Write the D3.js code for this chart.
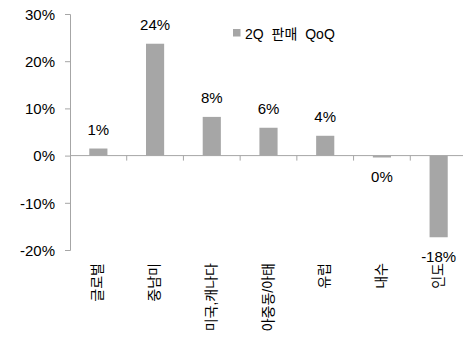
<!DOCTYPE html>
<html><head><meta charset="utf-8">
<script src="https://cdn.jsdelivr.net/npm/d3@7"></script>
<style>body{margin:0;background:#fff}svg{display:block}text{font-family:"Liberation Sans","Noto Sans CJK KR",sans-serif;fill:#000}</style>
</head><body><svg id="c" width="463" height="344"></svg>
<script>
const categories = ["글로벌","중남미","미국,캐나다","아중동/아태","유럽","내수","인도"];
const values = [1.5, 23.7, 8.2, 5.9, 4.2, -0.4, -17.3];
const valueLabels = ["1%","24%","8%","6%","4%","0%","-18%"];
const yTicks = [30,20,10,0,-10,-20];
const seriesName = "2Q 판매 QoQ";

const svg = d3.select("#c");
const gray = "#a6a6a6", axisCol = "#a6a6a6";
const x = d3.scaleBand().domain(categories).range([70, 467]).paddingInner(0.68).paddingOuter(0.34);
const xb = d3.scaleBand().domain(categories).range([70, 467]);
const y = d3.scaleLinear().domain([-20, 30]).range([250, 14]);

// y axis
const ya = svg.append("g").attr("transform","translate(70,0)")
  .call(d3.axisLeft(y).tickValues(yTicks).tickFormat(d=>d+"%").tickSize(5).tickPadding(10));
ya.select(".domain").attr("stroke",axisCol);
ya.selectAll(".tick line").attr("stroke",axisCol);
ya.selectAll(".tick text").style("font-size","15px").attr("dy","0.35em").attr("x",-15);

// bars
svg.selectAll("rect.bar").data(values).enter().append("rect")
  .attr("x",(d,i)=>x(categories[i])).attr("width",x.bandwidth())
  .attr("y",d=>y(Math.max(0,d))).attr("height",d=>Math.abs(y(d)-y(0)))
  .attr("fill",gray);

// x axis at 0
const xa = svg.append("g").attr("transform",`translate(0,${y(0)})`);
xa.append("line").attr("x1",70).attr("x2",467).attr("stroke",axisCol);
xa.selectAll("line.t").data(categories.slice(1)).enter().append("line")
  .attr("x1",d=>xb(d)).attr("x2",d=>xb(d)).attr("y1",0).attr("y2",5).attr("stroke",axisCol);

// value labels
svg.selectAll("text.v").data(values).enter().append("text")
  .attr("x",(d,i)=>xb(categories[i])+xb.bandwidth()/2)
  .attr("y",d=> d>=0 ? y(d)-14 : y(d)+25)
  .attr("text-anchor","middle").style("font-size","15px")
  .text((d,i)=>valueLabels[i]);

// category labels rotated
svg.selectAll("text.c").data(categories).enter().append("text")
  .attr("transform",d=>`translate(${xb(d)+xb.bandwidth()/2+4},263) rotate(-90)`)
  .attr("text-anchor","end").style("font-size","14px")
  .text(d=>d);

// legend
const lg = svg.append("g");
lg.append("rect").attr("x",233).attr("y",29).attr("width",7.5).attr("height",7.5).attr("fill",gray);
lg.append("text").attr("x",245).attr("y",38.5).style("font-size","14px").style("word-spacing","4px").text(seriesName);
</script></body></html>
